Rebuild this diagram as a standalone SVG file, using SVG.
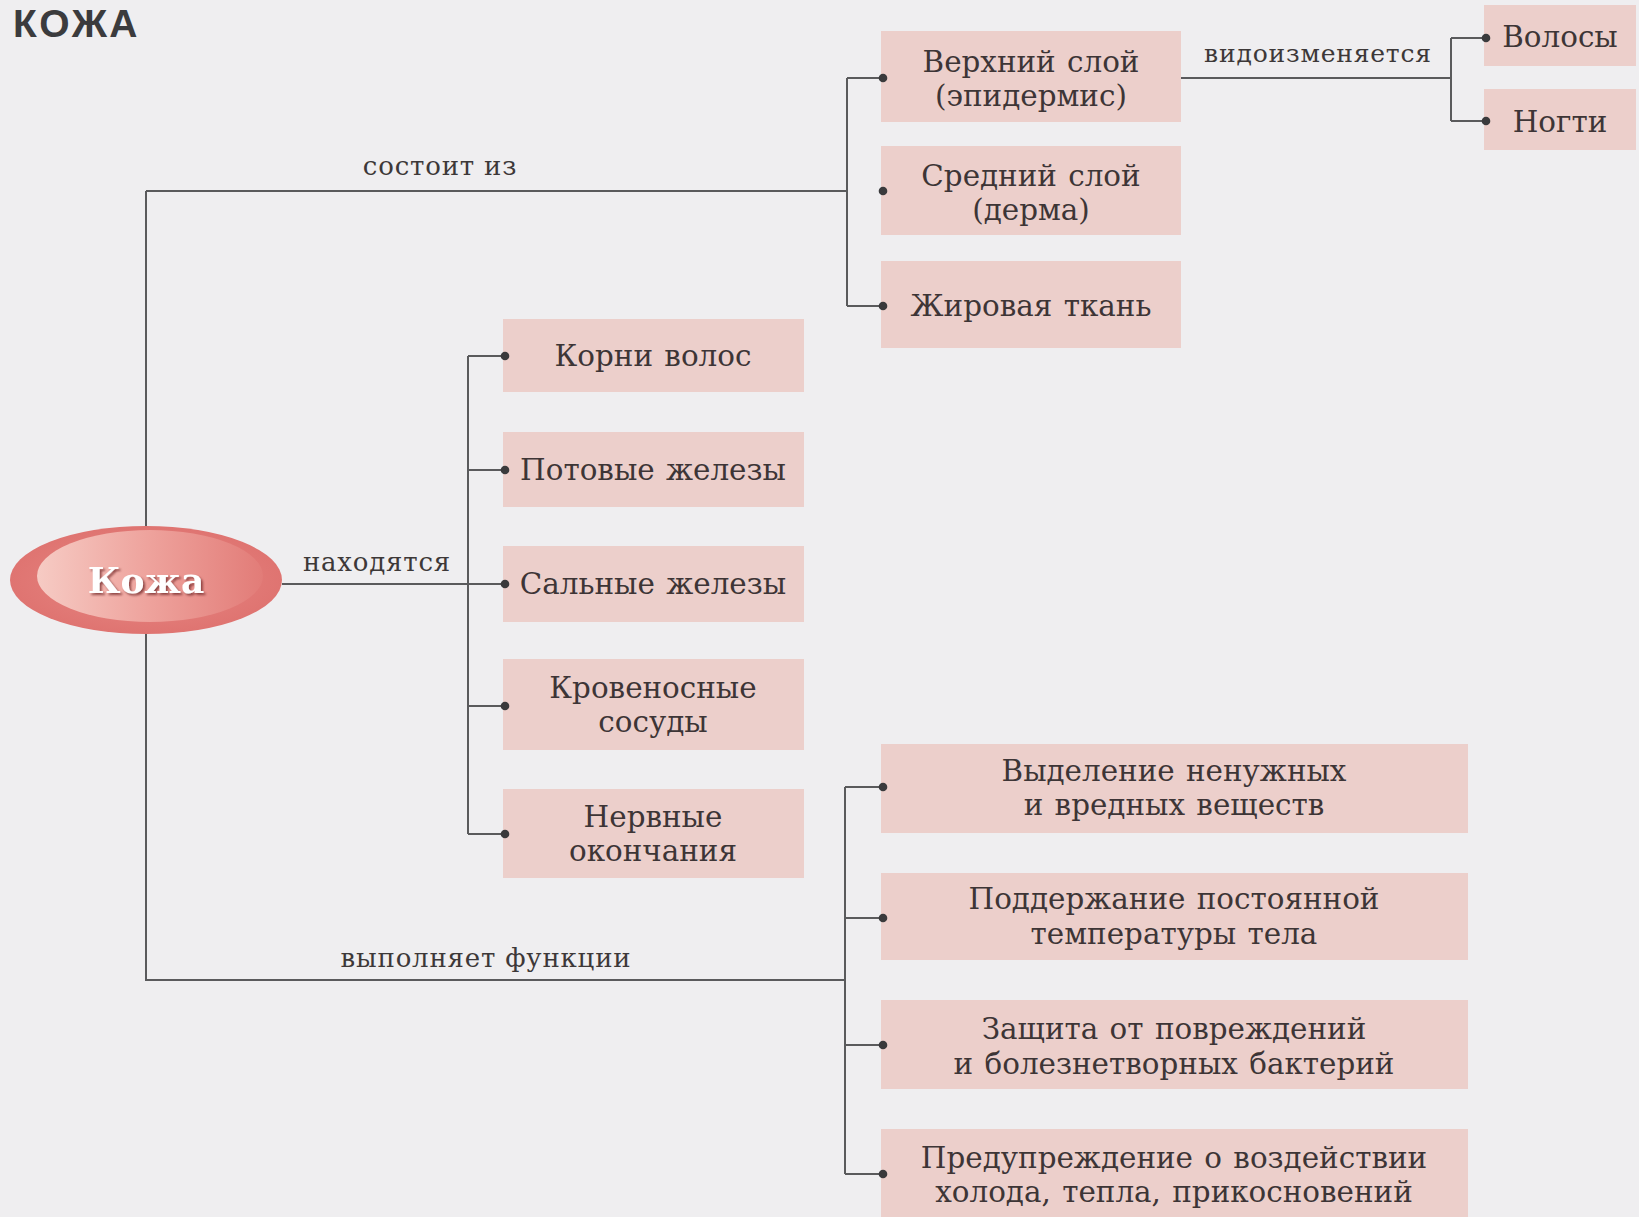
<svg xmlns="http://www.w3.org/2000/svg" width="1639" height="1217" viewBox="0 0 1639 1217">
<style>
.bx{fill:#eccfcb}
.t{font-family:"DejaVu Serif","Liberation Serif",serif;font-size:29.4px;word-spacing:2px;fill:#3d3536;text-anchor:middle}
.lb{font-family:"DejaVu Serif","Liberation Serif",serif;font-size:26px;letter-spacing:0.8px;fill:#3d3838;text-anchor:middle}
.ln{fill:none;stroke:#5a5a5c;stroke-width:2}
.dot{fill:#3a3a3c}
</style>
<defs>
<radialGradient id="outer" cx="0.5" cy="0.5" r="0.5">
<stop offset="0" stop-color="#e98a86"/>
<stop offset="1" stop-color="#df7471"/>
</radialGradient>
<linearGradient id="inner" x1="0" y1="0" x2="1" y2="0">
<stop offset="0" stop-color="#f6cbc4"/>
<stop offset="0.5" stop-color="#eea29c"/>
<stop offset="1" stop-color="#e27c78"/>
</linearGradient>
<filter id="sh" x="-10%" y="-10%" width="130%" height="140%">
<feDropShadow dx="2" dy="2" stdDeviation="1.2" flood-color="#7a3030" flood-opacity="0.8"/>
</filter>
</defs>
<rect width="1639" height="1217" fill="#efeef0"/>
<text x="13" y="37" font-family="Liberation Sans,Arial,sans-serif" font-weight="bold" font-size="39" letter-spacing="2.5" fill="#3b3b3d">КОЖА</text>

<g id="connectors">
<path class="ln" d="M146 191 V980 H845"/>
<path class="ln" d="M146 191 H847"/>
<path class="ln" d="M847 78 V306"/>
<path class="ln" d="M847 78 H881 M847 306 H881"/>
<path class="ln" d="M1181 78 H1451 M1451 38 V121 M1451 38 H1484 M1451 121 H1484"/>
<path class="ln" d="M282 584 H503 M468 356 V834 M468 356 H503 M468 470 H503 M468 706 H503 M468 834 H503"/>
<path class="ln" d="M845 787 V1174 M845 787 H881 M845 918 H881 M845 1045 H881 M845 1174 H881"/>
<text class="lb" x="440" y="175">состоит из</text>
<text class="lb" x="1318" y="62" style="font-size:25px">видоизменяется</text>
<text class="lb" x="377" y="571">находятся</text>
<text class="lb" x="486" y="967">выполняет функции</text>
</g>

<g id="kozha">
<ellipse cx="146" cy="580" rx="136" ry="54" fill="url(#outer)"/>
<ellipse cx="150" cy="576" rx="113" ry="46" fill="url(#inner)"/>
<text x="146" y="593" font-family="DejaVu Serif,Liberation Serif,serif" font-weight="bold" font-size="36" fill="#ffffff" text-anchor="middle" filter="url(#sh)">Кожа</text>
</g>

<g id="epidermis"><rect class="bx" x="881" y="31" width="300" height="91"/><text class="t" x="1031" y="72">Верхний слой</text><text class="t" x="1031" y="106">(эпидермис)</text><circle class="dot" cx="883" cy="78" r="4.3"/></g>
<g id="derma"><rect class="bx" x="881" y="146" width="300" height="89"/><text class="t" x="1031" y="186">Средний слой</text><text class="t" x="1031" y="220">(дерма)</text><circle class="dot" cx="883" cy="191" r="4.3"/></g>
<g id="fat"><rect class="bx" x="881" y="261" width="300" height="87"/><text class="t" x="1031" y="316">Жировая ткань</text><circle class="dot" cx="883" cy="306" r="4.3"/></g>
<g id="hair"><rect class="bx" x="1484" y="5" width="152" height="61"/><text class="t" x="1560" y="47">Волосы</text><circle class="dot" cx="1486" cy="38" r="4.3"/></g>
<g id="nails"><rect class="bx" x="1484" y="89" width="152" height="61"/><text class="t" x="1560" y="132">Ногти</text><circle class="dot" cx="1486" cy="121" r="4.3"/></g>

<g id="roots"><rect class="bx" x="503" y="319" width="301" height="73"/><text class="t" x="653" y="366">Корни волос</text><circle class="dot" cx="505" cy="356" r="4.3"/></g>
<g id="sweat"><rect class="bx" x="503" y="432" width="301" height="75"/><text class="t" x="653" y="480">Потовые железы</text><circle class="dot" cx="505" cy="470" r="4.3"/></g>
<g id="sebaceous"><rect class="bx" x="503" y="546" width="301" height="76"/><text class="t" x="653" y="594">Сальные железы</text><circle class="dot" cx="505" cy="584" r="4.3"/></g>
<g id="vessels"><rect class="bx" x="503" y="659" width="301" height="91"/><text class="t" x="653" y="698">Кровеносные</text><text class="t" x="653" y="732">сосуды</text><circle class="dot" cx="505" cy="706" r="4.3"/></g>
<g id="nerves"><rect class="bx" x="503" y="789" width="301" height="89"/><text class="t" x="653" y="827">Нервные</text><text class="t" x="653" y="861">окончания</text><circle class="dot" cx="505" cy="834" r="4.3"/></g>

<g id="excretion"><rect class="bx" x="881" y="744" width="587" height="89"/><text class="t" x="1174" y="781">Выделение ненужных</text><text class="t" x="1174" y="815">и вредных веществ</text><circle class="dot" cx="883" cy="787" r="4.3"/></g>
<g id="thermo"><rect class="bx" x="881" y="873" width="587" height="87"/><text class="t" x="1174" y="909">Поддержание постоянной</text><text class="t" x="1174" y="944">температуры тела</text><circle class="dot" cx="883" cy="918" r="4.3"/></g>
<g id="protection"><rect class="bx" x="881" y="1000" width="587" height="89"/><text class="t" x="1174" y="1039">Защита от повреждений</text><text class="t" x="1174" y="1074">и болезнетворных бактерий</text><circle class="dot" cx="883" cy="1045" r="4.3"/></g>
<g id="warning"><rect class="bx" x="881" y="1129" width="587" height="88"/><text class="t" x="1174" y="1168">Предупреждение о воздействии</text><text class="t" x="1174" y="1202">холода, тепла, прикосновений</text><circle class="dot" cx="883" cy="1174" r="4.3"/></g>
</svg>
